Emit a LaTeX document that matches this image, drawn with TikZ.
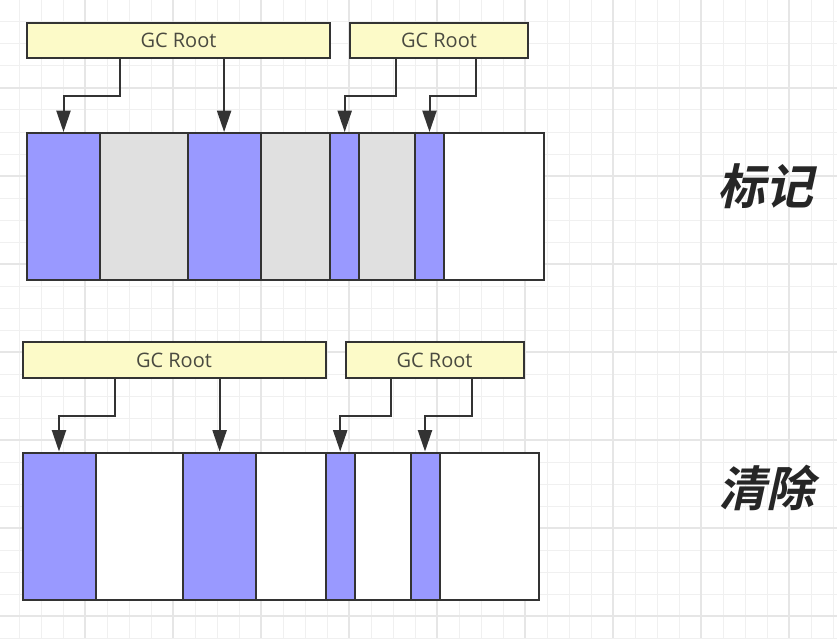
\documentclass[tikz,border=0pt]{standalone}
\usepackage{fontspec}
\newfontfamily\gcfont{Open Sans}
\newfontfamily\cjkfont{Noto Sans CJK SC Bold}[FakeSlant=0.22]
\usetikzlibrary{arrows.meta}
\definecolor{gridminor}{HTML}{F0F0F0}
\definecolor{gridmajor}{HTML}{E6E6E6}
\definecolor{live}{HTML}{9999FF}
\definecolor{dead}{HTML}{E0E0E0}
\definecolor{rootfill}{HTML}{FCFAC8}
\definecolor{edge}{HTML}{333333}
\definecolor{roottext}{HTML}{4A4A40}
\definecolor{phasetext}{HTML}{262626}

\tikzset{
  rootbox/.style={draw=edge, line width=1.5pt, fill=rootfill, inner sep=0pt,
    minimum height=26.6pt, font=\gcfont\fontsize{15}{17}\selectfont, text=roottext},
  memcell/.style={draw=edge, line width=1.5pt, inner sep=0pt, minimum height=110.6pt},
  arr/.style={draw=edge, line width=1.5pt, -{Triangle[length=16pt,width=10.5pt]}},
  phase/.style={font=\cjkfont\fontsize{36}{40}\selectfont, text=phasetext, inner sep=0pt}
}

\newcommand\mcell[4]{%
  \pgfmathsetmacro\cx{(#2+#3)/2}%
  \pgfmathsetmacro\cw{(#3-#2)*0.75}%
  \node[memcell, fill=#4, minimum width=\cw pt] (#1) at (\cx,206.75) {};%
}

\newcommand\memrow[2]{%
  \node[rootbox, minimum width=227.25pt] (#1gA) at (178.5,40.5) {GC Root};
  \node[rootbox, minimum width=133.5pt] (#1gB) at (439,40.5) {GC Root};
  \mcell{#1c1}{27}{100}{live}
  \mcell{#1c2}{100}{187.5}{#2}
  \mcell{#1c3}{187.5}{260.7}{live}
  \mcell{#1c4}{260.7}{330.4}{#2}
  \mcell{#1c5}{330.4}{359}{live}
  \mcell{#1c6}{359}{415}{#2}
  \mcell{#1c7}{415}{444}{live}
  \mcell{#1c8}{444}{543.6}{white}
  \coordinate (#1k1) at (119.6,96);
  \coordinate (#1k3) at (395.7,96);
  \coordinate (#1k4) at (476,96);
  \draw[arr] (#1k1 |- #1gA.south) -- (#1k1) -| (#1c1.north);
  \draw[arr] (#1c3.north |- #1gA.south) -- (#1c3.north);
  \draw[arr] (#1k3 |- #1gB.south) -- (#1k3) -| (#1c5.north);
  \draw[arr] (#1k4 |- #1gB.south) -- (#1k4) -| (#1c7.north);
}

\begin{document}
\begin{tikzpicture}[x=0.75pt,y=-0.75pt]
\useasboundingbox (0,0) rectangle (837,638);
\fill[white] (0,0) rectangle (837,638);
% background grid
\foreach \k in {0,...,38} {
  \draw[gridminor, line width=0.75pt] ({22*\k-3},0) -- ({22*\k-3},638);
}
\foreach \k in {1,...,29} {
  \draw[gridminor, line width=0.75pt] (0,{22*\k}) -- (837,{22*\k});
}
\foreach \k in {1,...,9} {
  \draw[gridmajor, line width=1pt] ({88*\k-3},0) -- ({88*\k-3},638);
}
\foreach \k in {1,...,7} {
  \draw[gridmajor, line width=1pt] (0,{88*\k}) -- (837,{88*\k});
}

% mark phase
\begin{scope}
  \memrow{t}{dead}
\end{scope}
% sweep phase
\begin{scope}[shift={(-4.5,319.5)}]
  \memrow{b}{white}
\end{scope}

\node[phase] (mark) at (765,186) {标记};
\node[phase] (sweep) at (766,488) {清除};
\end{tikzpicture}
\end{document}
